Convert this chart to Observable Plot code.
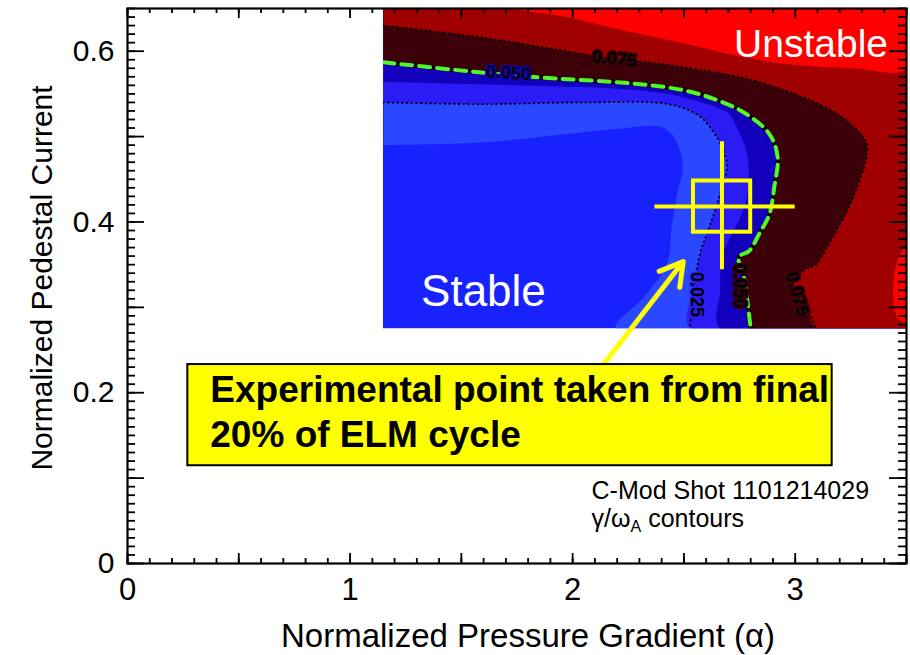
<!DOCTYPE html>
<html><head><meta charset="utf-8">
<script src="https://cdn.jsdelivr.net/npm/d3@7"></script>
<script src="https://cdn.jsdelivr.net/npm/@observablehq/plot@0.6"></script>
<style>body{margin:0;background:#fff}</style>
</head><body><div id="chart"></div>
<script>
// ---------- data ----------
const alphaExtent = [1.15, 3.5];      // computed grid range, alpha
const currentExtent = [0.275, 0.65];  // computed grid range, current

const xTicks = [0, 1, 2, 3];
const yTicks = [0, 0.2, 0.4, 0.6];

// contour boundaries [alpha, current]
const contour0125 = [[1.15,0.490],[1.59,0.493],[1.97,0.503],[2.20,0.509],[2.40,0.511],[2.46,0.497],[2.495,0.465],[2.47,0.433],[2.445,0.395],[2.425,0.352],[2.32,0.312],[2.195,0.275]];
const contour025 = [[1.15,0.540],[1.59,0.538],[2.05,0.540],[2.43,0.538],[2.565,0.525],[2.625,0.508],[2.671,0.488],[2.694,0.464],[2.671,0.441],[2.640,0.414],[2.603,0.386],[2.572,0.363],[2.549,0.327],[2.527,0.275]];
const contour0375 = [[1.15,0.564],[1.745,0.560],[2.200,0.556],[2.428,0.550],[2.580,0.540],[2.701,0.527],[2.735,0.512],[2.775,0.488],[2.790,0.468],[2.783,0.429],[2.753,0.405],[2.708,0.382],[2.671,0.359],[2.663,0.320],[2.663,0.275]];
const contour050 = [[1.15,0.587],[1.592,0.575],[1.866,0.569],[2.276,0.562],[2.504,0.554],[2.656,0.542],[2.777,0.527],[2.884,0.503],[2.921,0.476],[2.906,0.441],[2.884,0.409],[2.838,0.386],[2.793,0.366],[2.747,0.359],[2.770,0.335],[2.785,0.308],[2.800,0.275]];
const contour075 = [[1.15,0.630],[1.592,0.616],[2.094,0.595],[2.504,0.581],[2.807,0.566],[3.035,0.546],[3.187,0.527],[3.294,0.503],[3.324,0.488],[3.309,0.464],[3.278,0.441],[3.248,0.421],[3.202,0.398],[3.142,0.370],[3.096,0.351],[3.035,0.343],[2.990,0.327],[3.051,0.300],[3.096,0.275]];
const contour100Top = [[1.699,0.650],[1.972,0.640],[2.200,0.626],[2.504,0.609],[2.732,0.595],[2.960,0.585],[3.263,0.580],[3.5,0.579]];
const contour100Edge = [[3.5,0.372],[3.47,0.362],[3.45,0.345],[3.44,0.325],[3.445,0.300],[3.46,0.287],[3.5,0.280]];

const bandColors = ["#1822ff", "#2a48ff", "#2b1bf5", "#1300bd", "#3c0008", "#a00000", "#ff0000"];

const contourLabelText = ["0.075", "0.050", "0.025", "0.050", "0.075"];
const contourLabelAlpha = [2.187, 1.711, 2.557, 2.753, 3.009];
const contourLabelCurrent = [0.591, 0.5745, 0.315, 0.325, 0.3155];
const contourLabelAngle = [6, 4, 90, 90, 75];
const contourLabelBand = [4, 3, 2, 4, 4];

// experimental point
const expAlpha = [2.671], expCurrent = [0.418];
const expAlphaRange = [2.37, 3.0], expCurrentRange = [0.344, 0.494];
const expBoxAlpha = [2.543, 2.800], expBoxCurrent = [0.388, 0.448];

// annotations (data coordinates)
const regionText = ["Unstable", "Stable"];
const regionAlpha = [3.417, 1.319];
const regionCurrent = [0.593, 0.302];
const noteText = ["Experimental point taken from final", "20% of ELM cycle"];
const noteAlpha = [0.372, 0.372];
const noteCurrent = [0.1887, 0.1359];
const noteBoxAlpha = [0.271, 3.166], noteBoxCurrent = [0.1145, 0.233];
const arrowFrom = [2.138, 0.233], arrowTo = [2.497, 0.3536];
const shotText = ["C-Mod Shot 1101214029", "γ/ωA contours"];
const shotAlpha = [2.085, 2.085];
const shotCurrent = [0.0761, 0.0422];

const xLabel = "Normalized Pressure Gradient (α)";
const yLabel = "Normalized Pedestal Current";

// ---------- build ----------
const W = 910, H = 655, mL = 127, mR = 4, mT = 8, mB = 92;
const innerH = H - mT - mB;
const innerW = W - mL - mR;
const [aMin, aMax] = alphaExtent, [jMin, jMax] = currentExtent;
const outer = (c) => [...c, [aMax, jMin], [aMax, jMax], [aMin, jMax]];
const bandPolys = [outer(contour0125), outer(contour025), outer(contour0375), outer(contour050), outer(contour075), [...contour100Top, [aMax, jMax]], contour100Edge];
const bandFill = [bandColors[1], bandColors[2], bandColors[3], bandColors[4], bandColors[5], bandColors[6], bandColors[6]];

const px = d => d[0], py = d => d[1];
const labels = contourLabelText.map((t, i) => ({t, a: contourLabelAlpha[i], j: contourLabelCurrent[i], r: contourLabelAngle[i], halo: bandColors[contourLabelBand[i]]}));
const exp = [{a: expAlpha[0], j: expCurrent[0], aLo: expAlphaRange[0], aHi: expAlphaRange[1], jLo: expCurrentRange[0], jHi: expCurrentRange[1], bx1: expBoxAlpha[0], bx2: expBoxAlpha[1], by1: expBoxCurrent[0], by2: expBoxCurrent[1]}];
const notes = noteText.map((t, i) => ({t, a: noteAlpha[i], j: noteCurrent[i]}));
const shots = shotText.map((t, i) => ({t, a: shotAlpha[i], j: shotCurrent[i]}));

const xMinor = d3.range(0, 36).map(i => i / 10);
const xMajor = d3.range(0, 8).map(i => i / 2);
const yMinor = d3.range(0, 66).map(i => i / 100);
const yMajor = d3.range(0, 7).map(i => i / 10);

const yellow = "#ffff00";
const tickStyle = {stroke: "black", strokeWidth: 1.8};

const chart = Plot.plot({
  width: W, height: H,
  marginLeft: mL, marginRight: mR, marginTop: mT, marginBottom: mB,
  x: {domain: [0, 3.5]},
  y: {domain: [0, 0.65]},
  style: {fontFamily: "'Liberation Sans', Arial, Helvetica, sans-serif", background: "white", color: "black"},
  marks: [
    Plot.rect([0], {x1: aMin, x2: aMax, y1: jMin, y2: jMax, fill: bandColors[0]}),
    ...bandPolys.map((p, i) => Plot.line(p, {x: px, y: py, fill: bandFill[i], stroke: "none", curve: "catmull-rom", clip: true})),
    Plot.line(contour025, {x: px, y: py, stroke: "black", strokeWidth: 1.9, strokeDasharray: "0.5,4.2", strokeLinecap: "round", curve: "catmull-rom", clip: true}),
    Plot.line(contour075, {x: px, y: py, stroke: "black", strokeWidth: 1.9, strokeDasharray: "0.5,4.2", strokeLinecap: "round", curve: "catmull-rom", clip: true}),
    Plot.line(contour050, {x: px, y: py, stroke: "black", strokeWidth: 4, curve: "catmull-rom", clip: true}),
    Plot.line(contour050, {x: px, y: py, stroke: "#55f52a", strokeWidth: 4, strokeDasharray: "11,7", curve: "catmull-rom", clip: true}),
    Plot.text(labels, {x: "a", y: "j", text: "t", rotate: "r", fontSize: 18, fontWeight: "bold", fill: "black", stroke: d => d.halo, strokeWidth: 3, paintOrder: "stroke", textAnchor: "middle", lineAnchor: "middle"}),
    Plot.text([regionText[0]], {x: () => regionAlpha[0], y: () => regionCurrent[0], text: d => d, fill: "white", fontSize: 39, textAnchor: "end", lineAnchor: "bottom"}),
    Plot.text([regionText[1]], {x: () => regionAlpha[1], y: () => regionCurrent[1], text: d => d, fill: "white", fontSize: 44, textAnchor: "start", lineAnchor: "bottom"}),
    // experimental point
    Plot.ruleX(exp, {x: "a", y1: "jLo", y2: "jHi", stroke: yellow, strokeWidth: 4}),
    Plot.ruleY(exp, {y: "j", x1: "aLo", x2: "aHi", stroke: yellow, strokeWidth: 4}),
    Plot.rect(exp, {x1: "bx1", x2: "bx2", y1: "by1", y2: "by2", fill: "none", stroke: yellow, strokeWidth: 4}),
    Plot.arrow([0], {x1: arrowFrom[0], y1: arrowFrom[1], x2: arrowTo[0], y2: arrowTo[1], stroke: yellow, strokeWidth: 5, headLength: 7.8, headAngle: 60}),
    // note box
    Plot.rect([0], {x1: noteBoxAlpha[0], x2: noteBoxAlpha[1], y1: noteBoxCurrent[0], y2: noteBoxCurrent[1], fill: yellow, stroke: "black", strokeWidth: 2}),
    Plot.text(notes, {x: "a", y: "j", text: "t", fontSize: 37, fontWeight: "bold", textAnchor: "start", lineAnchor: "bottom", fill: "black"}),
    Plot.text(shots, {x: "a", y: "j", text: "t", fontSize: 25, textAnchor: "start", lineAnchor: "bottom", fill: "black"}),
    // ticks (inward, all four sides)
    Plot.tickX(xMinor, {x: d => d, insetTop: innerH - 5, ...tickStyle}),
    Plot.tickX(xMinor, {x: d => d, insetBottom: innerH - 5, ...tickStyle}),
    Plot.tickX(xMajor, {x: d => d, insetTop: innerH - 10, ...tickStyle}),
    Plot.tickX(xMajor, {x: d => d, insetBottom: innerH - 10, ...tickStyle}),
    Plot.tickY(yMinor, {y: d => d, insetRight: innerW - 8, ...tickStyle}),
    Plot.tickY(yMinor, {y: d => d, insetLeft: innerW - 8, ...tickStyle}),
    Plot.tickY(yMajor, {y: d => d, insetRight: innerW - 17, ...tickStyle}),
    Plot.tickY(yMajor, {y: d => d, insetLeft: innerW - 17, ...tickStyle}),
    Plot.frame({stroke: "black", strokeWidth: 2.2}),
    Plot.axisX({ticks: xTicks, tickSize: 0, tickPadding: 14, fontSize: 31, label: null, tickFormat: d => String(d)}),
    Plot.axisY({ticks: yTicks, tickSize: 0, tickPadding: 13, fontSize: 30, label: null, tickFormat: d => d === 0 ? "0" : d.toFixed(1)}),
    Plot.text([xLabel], {text: d => d, frameAnchor: "bottom", dy: 83, dx: 11, fontSize: 33, lineAnchor: "bottom", textAnchor: "middle", fill: "black"}),
    Plot.text([yLabel], {text: d => d, frameAnchor: "left", dx: -85, dy: -8, rotate: -90, fontSize: 30, lineAnchor: "middle", textAnchor: "middle", fill: "black"})
  ]
});

// restrict the contour layers to the computed grid extent (via the plot's scales)
const sx = chart.scale("x"), sy = chart.scale("y");
const cx1 = sx.apply(aMin), cx2 = sx.apply(aMax), cy1 = sy.apply(jMax), cy2 = sy.apply(jMin);
chart.querySelectorAll("clipPath rect").forEach(r => {
  r.setAttribute("x", cx1); r.setAttribute("y", cy1);
  r.setAttribute("width", cx2 - cx1); r.setAttribute("height", cy2 - cy1);
});

// subscript A in the contour caption
d3.select(chart).selectAll("text").filter(function () { return this.textContent === shotText[1]; })
  .each(function () {
    const t = d3.select(this);
    t.text(null);
    t.append("tspan").text("γ/ω");
    t.append("tspan").attr("dy", 5).attr("font-size", 16).text("A");
    t.append("tspan").attr("dy", -5).text(" contours");
  });

document.getElementById("chart").appendChild(chart);
</script>
</body></html>
